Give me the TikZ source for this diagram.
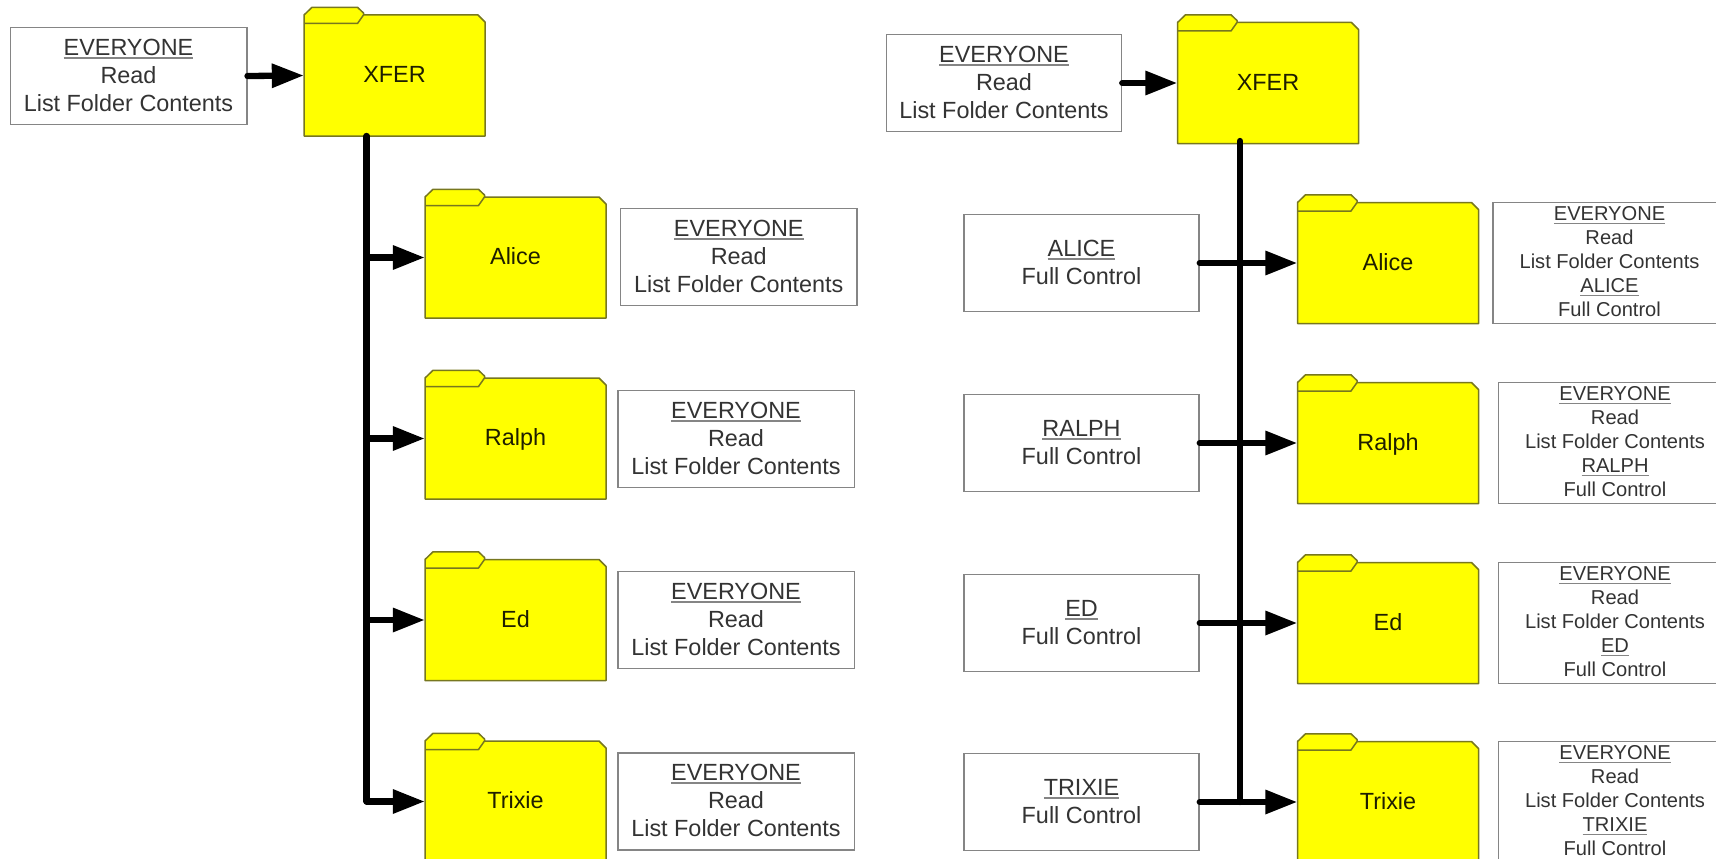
\documentclass[tikz,border=0pt]{standalone}
\usepackage{fontspec}
\setmainfont{Liberation Sans}
\usetikzlibrary{arrows.meta}
\definecolor{boxline}{HTML}{858585}
\definecolor{foldline}{HTML}{77771F}
\definecolor{boxtext}{HTML}{333333}
\definecolor{foldtext}{HTML}{1E1E00}
\definecolor{foldfill}{RGB}{255,255,0}
\newcommand\uword[1]{\setbox0\hbox{#1}\rlap{\color{boxline}\rule[-3.4pt]{\wd0}{1.6pt}}\box0}
\newcommand\boxtxt[1]{\vbox{\hbox{\begin{tabular}{@{}c@{}}#1\end{tabular}}\kern-3.1pt}}
\newcommand\smalltxt[1]{\vbox{\hbox{\begin{tabular}{@{}c@{}}#1\end{tabular}}\kern-2pt}}
\tikzset{
  bigbox/.style={draw=boxline,line width=1.5pt,fill=white,minimum width=235pt,minimum height=97pt,inner sep=0pt,align=center,text=boxtext,font=\fontsize{23.4}{28}\selectfont},
  widebox/.style={bigbox,minimum width=236.5pt},
  smallbox/.style={draw=boxline,line width=1.5pt,fill=white,minimum width=233pt,minimum height=121pt,inner sep=0pt,align=center,text=boxtext,font=\fontsize{20.1}{24}\selectfont},
  foldbody/.style={minimum width=181pt,minimum height=121pt,inner sep=0pt,text=foldtext,font=\fontsize{23.4}{28}\selectfont},
  foldshape/.style={draw=foldline,line width=1.5pt,fill=foldfill,line join=round},
  link/.style={line width=6.3pt,black,line cap=round},
  linkarrow/.style={link,-{Triangle[length=32pt,width=23pt]}}
}
\newcommand\folderat[4]{%
  \draw[foldshape,shift={(#2,#3)}] (-90.5,60.5) -- (90.5,60.5) -- (90.5,-53.5) -- (83.5,-60.5) -- (-31,-60.5) -- (-31,-62.5) -- (-37,-68.2) -- (-82.5,-68.2) -- (-90.5,-60.5) -- cycle;
  \draw[foldshape,fill=none,shift={(#2,#3)}] (-90.5,-52) -- (-37,-52) -- (-31,-60.5);
  \node[foldbody] (#1) at (#2,#3) {\rule[-5.2pt]{0pt}{25.2pt}#4};
}
\begin{document}
\begin{tikzpicture}[x=1pt,y=-1pt]
\useasboundingbox (0,0) rectangle (1716,859);
\clip (0,0) rectangle (1716,859);
% left tree
\folderat{lxfer}{394.5}{75.5}{XFER}
\folderat{lalice}{515.5}{257.5}{Alice}
\folderat{lralph}{515.5}{438.5}{Ralph}
\folderat{led}{515.5}{620}{Ed}
\folderat{ltrixie}{515.5}{801.5}{Trixie}
\node[widebox] (ltop) at (128.5,76) {\boxtxt{\uword{EVERYONE}\\Read\\List Folder Contents}};
\node[widebox] (lpa) at (738.75,257) {\boxtxt{\uword{EVERYONE}\\Read\\List Folder Contents}};
\node[widebox] (lpr) at (736,439) {\boxtxt{\uword{EVERYONE}\\Read\\List Folder Contents}};
\node[widebox] (lpe) at (736,620) {\boxtxt{\uword{EVERYONE}\\Read\\List Folder Contents}};
\node[widebox] (lpt) at (736,801.5) {\boxtxt{\uword{EVERYONE}\\Read\\List Folder Contents}};
\coordinate (ltrunk) at (366.6,136);
\draw[linkarrow] (ltop.east) -- (lxfer.west);
\draw[link] (ltrunk) -- (ltrunk |- ltrixie.west);
\draw[linkarrow] (ltrunk |- lalice.west) -- (lalice.west);
\draw[linkarrow] (ltrunk |- lralph.west) -- (lralph.west);
\draw[linkarrow] (ltrunk |- led.west) -- (led.west);
\draw[linkarrow] (ltrunk |- ltrixie.west) -- (ltrixie.west);
% right tree
\folderat{rxfer}{1268}{83}{XFER}
\folderat{ralice}{1388}{263}{Alice}
\folderat{rralph}{1388}{443}{Ralph}
\folderat{red}{1388}{623}{Ed}
\folderat{rtrixie}{1388}{802}{Trixie}
\node[bigbox] (rtop) at (1004,83) {\boxtxt{\uword{EVERYONE}\\Read\\List Folder Contents}};
\node[bigbox] (ua) at (1081.5,263) {\boxtxt{\uword{ALICE}\\Full Control}};
\node[bigbox] (ur) at (1081.5,443) {\boxtxt{\uword{RALPH}\\Full Control}};
\node[bigbox] (ue) at (1081.5,623) {\boxtxt{\uword{ED}\\Full Control}};
\node[bigbox] (ut) at (1081.5,802) {\boxtxt{\uword{TRIXIE}\\Full Control}};
\node[smallbox] (rpa) at (1609.5,263) {\smalltxt{\uword{EVERYONE}\\Read\\List Folder Contents\\\uword{ALICE}\\Full Control}};
\node[smallbox] (rpr) at (1615,443) {\smalltxt{\uword{EVERYONE}\\Read\\List Folder Contents\\\uword{RALPH}\\Full Control}};
\node[smallbox] (rpe) at (1615,623) {\smalltxt{\uword{EVERYONE}\\Read\\List Folder Contents\\\uword{ED}\\Full Control}};
\node[smallbox] (rpt) at (1615,802) {\smalltxt{\uword{EVERYONE}\\Read\\List Folder Contents\\\uword{TRIXIE}\\Full Control}};
\coordinate (rtrunk) at (1240,141);
\draw[linkarrow] (rtop.east) -- (rxfer.west);
\draw[link] (rtrunk) -- (rtrunk |- rtrixie.west);
\draw[linkarrow] (ua.east) -- (ralice.west);
\draw[linkarrow] (ur.east) -- (rralph.west);
\draw[linkarrow] (ue.east) -- (red.west);
\draw[linkarrow] (ut.east) -- (rtrixie.west);
\end{tikzpicture}
\end{document}
